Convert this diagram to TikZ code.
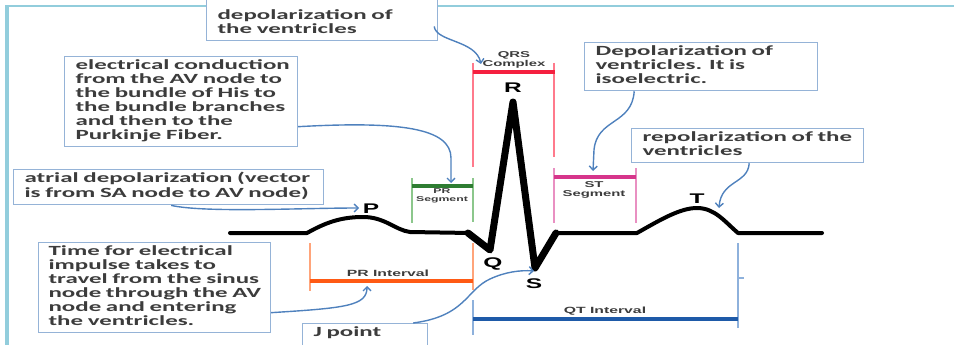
\documentclass[tikz,border=0pt]{standalone}
\usepackage{fontspec}
\usetikzlibrary{arrows.meta}
\newfontfamily\bxf[FakeStretch=1.78]{Carlito Bold}
\newfontfamily\lbf[FakeStretch=1.75]{Liberation Sans Bold}
\newcommand\boxlines[1]{\begin{tabular}{@{}l@{}}#1\end{tabular}}
\definecolor{framec}{HTML}{92CDDC}
\definecolor{boxc}{HTML}{95B3D7}
\definecolor{arrc}{HTML}{4F81BD}
\definecolor{txt}{HTML}{3C3C3C}
\definecolor{qrsH}{HTML}{F5203F}
\definecolor{qrsT}{HTML}{FF7A8C}
\definecolor{prsH}{HTML}{2E7D32}
\definecolor{prsT}{HTML}{8CC78C}
\definecolor{priH}{HTML}{FF5A14}
\definecolor{priT}{HTML}{FFA47A}
\definecolor{stH}{HTML}{D6358B}
\definecolor{stT}{HTML}{E990C2}
\definecolor{qtH}{HTML}{1E5AA8}
\definecolor{qtT}{HTML}{8EB1DC}
\begin{document}
\begin{tikzpicture}[x=1pt,y=-1pt,
  note/.style={draw=boxc, line width=1.2pt, fill=white, anchor=north west, align=left,
    inner xsep=11pt, inner ysep=3pt, text=txt,
    font=\bxf\fontsize{14}{14}\selectfont},
  callout/.style={draw=arrc, line width=1.4pt, -{Straight Barb[length=4pt,width=8pt]}},
  wavelbl/.style={font=\lbf\fontsize{14}{14}\selectfont, text=black, inner sep=0pt},
  brlbl/.style={font=\lbf\fontsize{8.5}{9}\selectfont, text=txt, inner sep=0pt, align=center},
  ecg/.style={line width=4pt, line join=round, line cap=round, black},
  tick/.style={line width=1.5pt},
  bar/.style={line width=4pt}
]
\useasboundingbox (0,0) rectangle (954,345);
% frame
\draw[framec, line width=1.5pt] (5,6) -- (954,6);
\draw[framec, line width=4pt] (7,6) -- (7,345);

% brackets
\draw[tick, qrsT] (473,63) -- (473,167) (554,63) -- (554,157);
\draw[bar, qrsH] (473,72) -- (555,72);
\node[brlbl] (qrslbl) at (514,60) {QRS\\Complex};

\draw[tick, prsT] (412,178) -- (412,223) (473,178) -- (473,222);
\draw[line width=3.5pt, prsH] (412,186) -- (473,186);
\node[brlbl, font=\lbf\fontsize{7}{8}\selectfont] (prslbl) at (442,196) {PR\\Segment};

\draw[tick, priT] (310,243) -- (310,291) (473,243) -- (473,290);
\draw[line width=3.5pt, priH] (310,281) -- (473,281);
\node[brlbl, font=\lbf\fontsize{9}{9}\selectfont] (prilbl) at (388,273) {PR Interval};

\draw[tick, stT] (554,168) -- (554,223) (636,168) -- (636,223);
\draw[bar, stH] (554,177) -- (636,177);
\node[brlbl] (stlbl) at (594,190) {ST\\Segment};

\draw[tick, qtT] (473,300) -- (473,335) (738,243) -- (738,328) (738,278) -- (744,278);
\draw[bar, qtH] (473,319) -- (738,319);
\node[brlbl, font=\lbf\fontsize{9}{9}\selectfont] (qtlbl) at (605,311) {QT Interval};

% ECG wave
\draw[ecg] (230,233) -- (307,233)
  .. controls (325,223) and (340,217) .. (363,217)
  .. controls (385,217) and (395,230) .. (410,232) -- (470,233);
\draw[ecg, line width=7pt] (468,233) -- (490,250) -- (513,102) -- (535,268) -- (556,233);
\draw[ecg] (556,233) -- (637,233)
  .. controls (660,220) and (680,208) .. (697,208)
  .. controls (715,208) and (725,222) .. (738,233) -- (822,233);

% wave labels
\node[wavelbl] (P) at (371,209) {P};
\node[wavelbl] (Q) at (493,264) {Q};
\node[wavelbl] (R) at (513,88) {R};
\node[wavelbl] (S) at (534,284) {S};
\node[wavelbl] (T) at (697,199) {T};

% target coordinates
\coordinate (tqrs) at (481,64);
\coordinate (tprs) at (451,183);
\coordinate (tp) at (359,208);
\coordinate (tpri) at (367,286);
\coordinate (ts) at (534,271);
\coordinate (tst) at (593,171);
\coordinate (tt) at (719,208);

% text boxes
\node[note, text width=209pt] (depv) at (206,-6)
  {\boxlines{\rule{0pt}{22pt}depolarization of\\the ventricles}};
\node[note, text width=211pt, minimum height=89pt] (cond) at (64,56)
  {\boxlines{electrical conduction\\from the AV node to\\the bundle of His to\\the bundle branches\\and then to the\\Purkinje Fiber.}};
\node[note, text width=288pt, minimum height=33pt] (atrial) at (13,169)
  {\boxlines{atrial depolarization (vector\\is from SA node to AV node)}};
\node[note, text width=212pt, inner xsep=10pt, minimum height=90pt] (time) at (38,242)
  {\boxlines{Time for electrical\\impulse takes to\\travel from the sinus\\node through the AV\\node and entering\\the ventricles.}};
\node[note, text width=103pt, inner xsep=11pt] (jpt) at (302,323)
  {\boxlines{J point\rule[-22pt]{0pt}{22pt}}};
\node[note, text width=211pt, minimum height=46pt] (deprv) at (584,42)
  {\boxlines{Depolarization of\\ventricles. It is\\isoelectric.}};
\node[note, text width=210pt, minimum height=34pt] (repol) at (631,128)
  {\boxlines{repolarization of the\\ventricles}};

% callouts
\draw[callout] ([xshift=-4pt,yshift=15pt]depv.south east) .. controls (436,42) and (476,40) .. (tqrs);
\draw[callout] ([yshift=-25pt]cond.east) .. controls (400,121) and (451,128) .. (451,158) -- (tprs);
\draw[callout] ([xshift=-153pt]atrial.south east) .. controls (205,213) and (300,208) .. (tp);
\draw[callout] ([yshift=-25pt]time.east) .. controls (345,308) and (367,306) .. (tpri);
\draw[callout] ([xshift=-15pt]jpt.north east) .. controls (466,316) and (466,290) .. (490,279)
  .. controls (505,272) and (520,270) .. (ts);
\draw[callout] ([xshift=-184pt]deprv.south east) .. controls (632,125) and (597,118) .. (594,150) -- (tst);
\draw[callout] ([xshift=-115pt]repol.south east) .. controls (748,184) and (721,180) .. (tt);
\end{tikzpicture}
\end{document}
